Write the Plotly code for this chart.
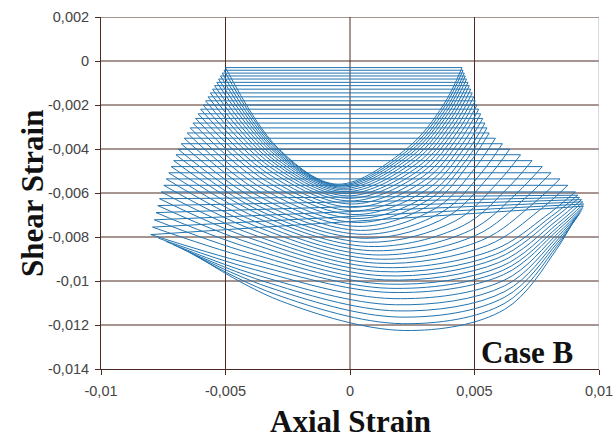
import plotly.graph_objects as go

# values in units of 1e-3 strain
MILLI = 1e-3

left_x = [-5.00, -5.06, -5.13, -5.20, -5.28, -5.35, -5.44, -5.52, -5.61, -5.70,
          -5.80, -5.90, -6.00, -6.10, -6.20, -6.31, -6.42, -6.54, -6.66, -6.78,
          -6.90, -6.99, -7.08, -7.18, -7.28, -7.38, -7.48, -7.58, -7.65, -7.72,
          -7.79, -7.86, -7.93, -8.00, -7.70, -7.40, -7.10, -6.80, -6.45, -6.10]
left_y = [-0.30, -0.42, -0.55, -0.68, -0.82, -0.97, -1.12, -1.28, -1.45, -1.63,
          -1.81, -2.00, -2.19, -2.40, -2.61, -2.82, -3.04, -3.27, -3.51, -3.76,
          -4.01, -4.26, -4.53, -4.80, -5.08, -5.36, -5.65, -5.95, -6.26, -6.57,
          -6.89, -7.22, -7.55, -7.89, -8.05, -8.20, -8.35, -8.50, -8.70, -8.90]

arm1_x = [-2.89, -2.90, -2.93, -2.95, -2.97, -3.00, -3.04, -3.07, -3.10, -3.14,
          -3.18, -3.22, -3.27, -3.31, -3.35, -3.40, -3.46, -3.52, -3.56, -3.61,
          -3.65, -3.69, -3.71, -3.75, -3.79, -3.83, -3.87, -3.90, -3.92, -3.95,
          -3.98, -4.00, -4.02, -4.04, -3.84, -3.65, -3.45, -3.25, -3.01, -2.78]
arm1_y = [-3.96, -4.01, -4.06, -4.13, -4.20, -4.28, -4.37, -4.48, -4.59, -4.71,
          -4.84, -4.98, -5.14, -5.30, -5.47, -5.65, -5.84, -6.02, -6.21, -6.41,
          -6.60, -6.77, -6.94, -7.12, -7.31, -7.49, -7.69, -7.89, -8.09, -8.30,
          -8.52, -8.74, -8.97, -9.21, -9.48, -9.76, -10.02, -10.29, -10.60, -10.91]

bottom_x = [-0.50, -0.45, -0.40, -0.35, -0.30, -0.25, -0.20, -0.15, -0.10, -0.05,
            0.00, 0.05, 0.10, 0.15, 0.20, 0.25, 0.30, 0.35, 0.42, 0.50,
            0.58, 0.66, 0.74, 0.82, 0.90, 0.98, 1.06, 1.14, 1.22, 1.30,
            1.38, 1.46, 1.55, 1.64, 1.73, 1.82, 1.91, 2.00, 2.10, 2.20]
bottom_y = [-5.60, -5.64, -5.68, -5.73, -5.79, -5.86, -5.94, -6.03, -6.13, -6.24,
            -6.36, -6.50, -6.65, -6.81, -6.98, -7.16, -7.34, -7.52, -7.70, -7.88,
            -8.06, -8.24, -8.43, -8.62, -8.81, -9.00, -9.19, -9.38, -9.57, -9.76,
            -9.95, -10.14, -10.33, -10.52, -10.80, -11.08, -11.36, -11.64, -11.94, -12.25]

arm2_x = [2.30, 2.35, 2.40, 2.45, 2.50, 2.56, 2.62, 2.68, 2.74, 2.80,
          2.86, 2.92, 2.99, 3.06, 3.13, 3.21, 3.27, 3.35, 3.53, 3.73,
          3.93, 4.23, 4.53, 4.81, 5.04, 5.29, 5.52, 5.74, 5.84, 5.91,
          6.00, 6.07, 6.13, 6.17, 6.20, 6.21, 6.23, 6.22, 6.22, 6.21]
arm2_y = [-3.96, -4.04, -4.12, -4.21, -4.31, -4.42, -4.53, -4.66, -4.80, -4.94,
          -5.09, -5.26, -5.43, -5.62, -5.81, -6.02, -6.22, -6.43, -6.63, -6.84,
          -7.06, -7.27, -7.49, -7.71, -7.93, -8.15, -8.38, -8.60, -8.79, -8.97,
          -9.15, -9.34, -9.52, -9.71, -9.96, -10.22, -10.47, -10.73, -11.01, -11.29]

arm3_x = [3.75, 3.79, 3.84, 3.88, 3.93, 3.99, 4.04, 4.10, 4.16, 4.22,
          4.28, 4.34, 4.41, 4.49, 4.56, 4.65, 4.72, 4.80, 5.03, 5.28,
          5.54, 5.92, 6.33, 6.69, 7.00, 7.31, 7.60, 7.86, 8.10, 8.18,
          8.27, 8.33, 8.37, 8.38, 8.38, 8.37, 8.36, 8.34, 8.32, 8.30]
arm3_y = [-2.00, -2.09, -2.19, -2.30, -2.41, -2.53, -2.66, -2.80, -2.95, -3.10,
          -3.27, -3.44, -3.62, -3.81, -4.01, -4.21, -4.42, -4.63, -4.85, -5.08,
          -5.30, -5.54, -5.78, -6.02, -6.27, -6.53, -6.79, -7.05, -7.05, -7.16,
          -7.28, -7.40, -7.52, -7.65, -7.80, -7.95, -8.10, -8.25, -8.40, -8.55]

right_x = [4.50, 4.54, 4.59, 4.63, 4.68, 4.74, 4.79, 4.85, 4.91, 4.97,
           5.03, 5.10, 5.17, 5.25, 5.33, 5.42, 5.50, 5.59, 5.84, 6.12,
           6.41, 6.85, 7.31, 7.72, 8.07, 8.43, 8.75, 9.05, 9.15, 9.22,
           9.30, 9.35, 9.38, 9.38, 9.35, 9.30, 9.25, 9.18, 9.10, 9.00]
right_y = [-0.30, -0.42, -0.55, -0.68, -0.82, -0.97, -1.12, -1.28, -1.45, -1.63,
           -1.81, -2.00, -2.19, -2.40, -2.61, -2.82, -3.04, -3.27, -3.51, -3.76,
           -4.01, -4.26, -4.53, -4.80, -5.08, -5.36, -5.65, -5.95, -6.10, -6.20,
           -6.30, -6.40, -6.50, -6.60, -6.70, -6.80, -6.90, -7.00, -7.10, -7.20]

# loops that show a straight upper branch
has_top = [True] * 34 + [False] * 6

x_ticks = [-0.01, -0.005, 0, 0.005, 0.01]
x_ticktext = ["-0,01", "-0,005", "0", "0,005", "0,01"]
y_ticks = [0.002, 0, -0.002, -0.004, -0.006, -0.008, -0.01, -0.012, -0.014]
y_ticktext = ["0,002", "0", "-0,002", "-0,004", "-0,006", "-0,008", "-0,01", "-0,012", "-0,014"]

LINE_COLOR = "#2274b0"
GRID_COLOR = "#4e2a24"

bx, by = [], []
tx, ty = [], []
for i in range(len(left_x)):
    xs = [left_x[i], arm1_x[i], bottom_x[i], arm2_x[i], arm3_x[i], right_x[i]]
    ys = [left_y[i], arm1_y[i], bottom_y[i], arm2_y[i], arm3_y[i], right_y[i]]
    bx += [v * MILLI for v in xs] + [None]
    by += [v * MILLI for v in ys] + [None]
    if has_top[i]:
        tx += [left_x[i] * MILLI, right_x[i] * MILLI, None]
        ty += [left_y[i] * MILLI, right_y[i] * MILLI, None]

fig = go.Figure()
fig.add_trace(go.Scatter(x=tx, y=ty, mode="lines",
                         line=dict(color=LINE_COLOR, width=1), hoverinfo="skip"))
fig.add_trace(go.Scatter(x=bx, y=by, mode="lines", connectgaps=False,
                         line=dict(color=LINE_COLOR, width=1, shape="spline", smoothing=1.0),
                         hoverinfo="skip"))

shapes = []
for yv in y_ticks[:-1]:
    shapes.append(dict(type="line", xref="x", yref="y", x0=x_ticks[0], x1=x_ticks[-1],
                       y0=yv, y1=yv, line=dict(color=GRID_COLOR, width=1), layer="below"))
for xv in x_ticks[1:-1]:
    shapes.append(dict(type="line", xref="x", yref="y", x0=xv, x1=xv,
                       y0=y_ticks[-1], y1=y_ticks[0], line=dict(color=GRID_COLOR, width=1), layer="below"))
shapes.append(dict(type="line", xref="x", yref="y", x0=x_ticks[-1], x1=x_ticks[-1],
                   y0=y_ticks[-1], y1=y_ticks[0], line=dict(color="#a8b6c6", width=1), layer="below"))

tick_font = dict(family="Liberation Sans, Arial, sans-serif", size=14.5, color="#444444")
title_font = dict(family="Liberation Serif, Times New Roman, serif", size=31, color="#111111")

fig.update_layout(
    width=615, height=441,
    margin=dict(l=101, r=16, t=17, b=72),
    paper_bgcolor="white", plot_bgcolor="white",
    showlegend=False,
    shapes=shapes,
    xaxis=dict(range=[x_ticks[0], x_ticks[-1]], tickvals=x_ticks, ticktext=x_ticktext,
               showgrid=False, zeroline=False, showline=True, linecolor=GRID_COLOR, linewidth=1,
               ticks="outside", ticklen=5, tickcolor=GRID_COLOR, tickfont=tick_font,
               ticklabelstandoff=4, automargin=False),
    yaxis=dict(range=[y_ticks[-1], y_ticks[0]], tickvals=y_ticks, ticktext=y_ticktext,
               showgrid=False, zeroline=False, showline=True, linecolor=GRID_COLOR, linewidth=1,
               ticks="outside", ticklen=5, tickcolor=GRID_COLOR, tickfont=tick_font,
               ticklabelstandoff=3, automargin=False),
    annotations=[
        dict(text="<b>Axial Strain</b>", xref="paper", yref="paper", x=0.5, y=-0.148,
             xanchor="center", yanchor="middle", showarrow=False, font=title_font),
        dict(text="<b>Shear Strain</b>", xref="paper", yref="paper", x=-0.1386, y=0.5,
             xanchor="center", yanchor="middle", textangle=-90, showarrow=False, font=title_font),
        dict(text="<b>Case B</b>", xref="paper", yref="paper", x=0.855, y=0.048,
             xanchor="center", yanchor="middle", showarrow=False,
             font=dict(family="Liberation Serif, Times New Roman, serif", size=31, color="#111111")),
    ],
)

fig.write_html("out.html")
